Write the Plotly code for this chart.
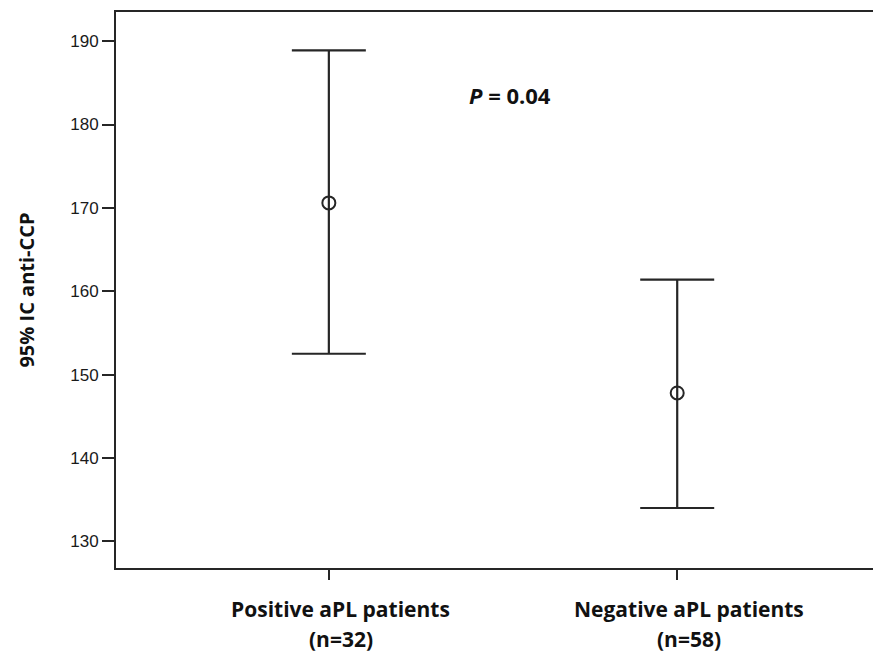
import plotly.graph_objects as go

categories = ["Positive aPL patients", "Negative aPL patients"]
n_labels = ["(n=32)", "(n=58)"]
means = [170.6, 147.8]
upper = [188.9, 161.4]
lower = [152.5, 134.0]
y_ticks = [130, 140, 150, 160, 170, 180, 190]

err_plus = [u - m for u, m in zip(upper, means)]
err_minus = [m - l for m, l in zip(means, lower)]

line_col = "#262626"
text_font = dict(family="Open Sans", size=21, color="#111")

fig = go.Figure()
fig.add_trace(go.Scatter(
    x=[0, 1], y=means, mode="markers",
    marker=dict(symbol="circle-open", size=13, color=line_col, line=dict(width=2, color=line_col)),
    error_y=dict(type="data", symmetric=False, array=err_plus, arrayminus=err_minus,
                 color=line_col, thickness=2.2, width=37),
    showlegend=False, hoverinfo="skip",
))

for i, (cat, n) in enumerate(zip(categories, n_labels)):
    fig.add_annotation(x=i, xref="x", y=0, yref="paper", text="<b>%s</b>" % cat,
                       showarrow=False, yanchor="middle", yshift=-41, xshift=12,
                       font=text_font)
    fig.add_annotation(x=i, xref="x", y=0, yref="paper", text="<b>%s</b>" % n,
                       showarrow=False, yanchor="middle", yshift=-71, xshift=12,
                       font=text_font)

fig.add_annotation(x=0.52, y=183.5, xref="x", yref="y", text="<b><i>P</i> = 0.04</b>",
                   showarrow=False, font=dict(family="Open Sans", size=22, color="#111"))

fig.update_xaxes(
    range=[-0.611, 1.585], tickvals=[0, 1], ticktext=["", ""],
    showline=True, linecolor=line_col, linewidth=2, mirror=True,
    ticks="outside", ticklen=10, tickwidth=2, tickcolor=line_col,
    showgrid=False, zeroline=False,
)
fig.update_yaxes(
    range=[126.8, 193.5], tickvals=y_ticks,
    showline=True, linecolor=line_col, linewidth=2, mirror=False,
    ticks="outside", ticklen=12, tickwidth=2, tickcolor=line_col,
    tickfont=dict(family="Liberation Sans", size=17, color="#1a1a1a"),
    showgrid=False, zeroline=False,
    title=dict(text="<b>95% IC anti-CCP</b>", font=dict(family="Open Sans", size=20, color="#111"), standoff=30),
)

fig.update_layout(
    width=873, height=646,
    margin=dict(l=108, r=0, t=4, b=86),
    plot_bgcolor="white", paper_bgcolor="white",
)

fig.write_html("out.html")
